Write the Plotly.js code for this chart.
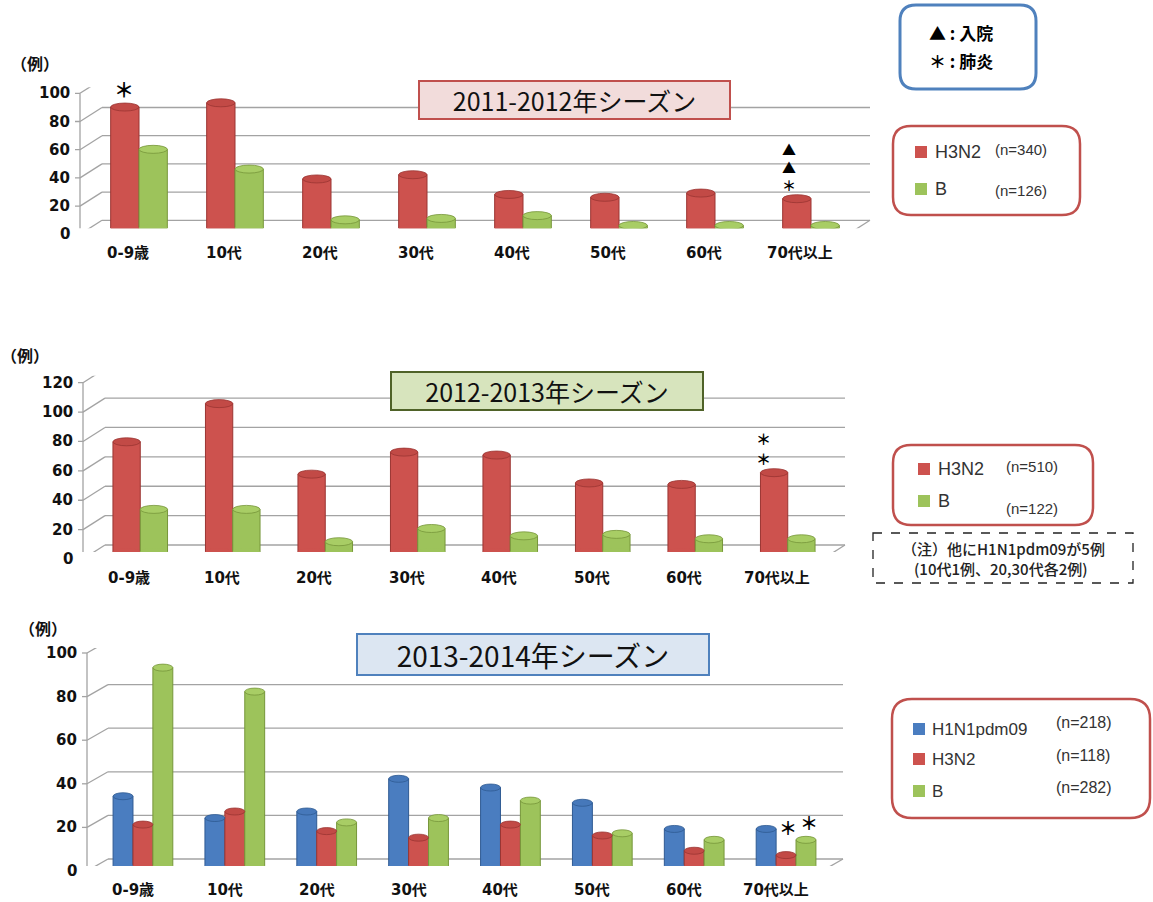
<!DOCTYPE html>
<html><head><meta charset="utf-8">
<script src="https://cdn.plot.ly/plotly-3.0.1.min.js"></script>
<style>html,body{margin:0;padding:0;background:#fff}</style>
</head><body><div id="chart" style="width:1153px;height:902px"></div>
<script>
// ---- data ----
const ageGroups = ['0-9歳','10代','20代','30代','40代','50代','60代','70代以上'];
const s1_H3N2 = [86,89,35,38,24,22,25,21];
const s1_B    = [56,42,6,7,9,2,2,2];
const s2_H3N2 = [75,101,53,68,66,47,46,54];
const s2_B    = [29,29,7,16,11,12,9,9];
const s3_H1N1 = [32,22,25,40,36,29,17,17];
const s3_H3N2 = [19,25,16,13,19,14,7,5];
const s3_B    = [91,80,20,22,30,15,12,12];
const yTicks1 = [0,20,40,60,80,100];
const yTicks2 = [0,20,40,60,80,100,120];
const yTicks3 = [0,20,40,60,80,100];
const seasonTitles = ['2011-2012年シーズン','2012-2013年シーズン','2013-2014年シーズン'];
const legend1 = [['H3N2','(n=340)'],['B','(n=126)']];
const legend2 = [['H3N2','(n=510)'],['B','(n=122)']];
const legend3 = [['H1N1pdm09','(n=218)'],['H3N2','(n=118)'],['B','(n=282)']];

// ---- styling ----
const W = 1153, H = 902;
const px = x => x / W, py = y => 1 - y / H;
const RED   = {color:'#CD524E', top:'#C24A46', edge:'#9A3532'};
const GREEN = {color:'#9DC35B', top:'#A8CD65', edge:'#76963A'};
const BLUE  = {color:'#4A7DC0', top:'#4678BA', edge:'#2F5A92'};
const NUMFONT = 'DejaVu Sans, Noto Sans CJK JP, sans-serif';
const JPFONT = 'Noto Sans CJK JP, sans-serif';
const GRID = {color:'#A3A3A3', width:1.3};

const charts = [
  {series:[{vals:s1_H3N2, ...RED},{vals:s1_B, ...GREEN}], ticks:yTicks1, range:[0,100],
   plane:{x0:91, x1:859, y0:228.3, yTop:87.3}, front:[-11,-6], back:[11,8], bargap:0.41, ell:8},
  {series:[{vals:s2_H3N2, ...RED},{vals:s2_B, ...GREEN}], ticks:yTicks2, range:[0,120],
   plane:{x0:94, x1:834, y0:552, yTop:375.7}, front:[-11,-7], back:[11,7], bargap:0.41, ell:8},
  {series:[{vals:s3_H1N1, ...BLUE},{vals:s3_H3N2, ...RED},{vals:s3_B, ...GREEN}], ticks:yTicks3, range:[0,100],
   plane:{x0:97, x1:832, y0:866, yTop:648}, front:[-10,-5], back:[11,7], bargap:0.35, ell:7}
];

const traces = [], shapes = [], annotations = [];
const layout = {width:W, height:H, margin:{l:0,r:0,t:0,b:0}, paper_bgcolor:'#fff', plot_bgcolor:'rgba(0,0,0,0)',
  barmode:'overlay', showlegend:false, font:{family:JPFONT}};

function txt(o) { // paper-positioned text helper with explicit anchors
  return Object.assign({xref:'paper', yref:'paper', xanchor:'center', yanchor:'middle', showarrow:false}, o);
}

charts.forEach((c, ci) => {
  const xa = ci === 0 ? 'x' : 'x' + (ci + 1);
  const ya = ci === 0 ? 'y' : 'y' + (ci + 1);
  const xk = ci === 0 ? 'xaxis' : 'xaxis' + (ci + 1);
  const yk = ci === 0 ? 'yaxis' : 'yaxis' + (ci + 1);
  const P = c.plane;
  layout[xk] = {domain:[px(P.x0), px(P.x1)], anchor:ya, type:'category', range:[-0.5, ageGroups.length - 0.5],
    showticklabels:false, showgrid:false, zeroline:false, showline:false, ticks:'', fixedrange:true};
  layout[yk] = {domain:[py(P.y0), py(P.yTop)], anchor:xa, range:c.range,
    showticklabels:false, showgrid:false, zeroline:false, showline:false, ticks:'', fixedrange:true};
  const [fdx, fdy] = c.front, [bdx, bdy] = c.back;
  const L = P.x0, R = P.x1;
  c.ticks.forEach(v => {
    shapes.push({type:'line', layer:'below', xref:'paper', x0:px(L+bdx), x1:px(R+bdx), yref:ya, ysizemode:'pixel', yanchor:v, y0:bdy, y1:bdy, line:GRID});
    shapes.push({type:'line', layer:'below', xref:'paper', x0:px(L+fdx), x1:px(L+bdx), yref:ya, ysizemode:'pixel', yanchor:v, y0:fdy, y1:bdy, line:GRID});
    shapes.push({type:'line', layer:'below', xref:'paper', x0:px(L+fdx-5), x1:px(L+fdx), yref:ya, ysizemode:'pixel', yanchor:v, y0:fdy, y1:fdy, line:GRID});
    annotations.push({xref:'paper', x:px(L+fdx-8), xanchor:'right', yref:ya, y:v, yanchor:'middle', yshift:fdy,
      text:String(v), showarrow:false, font:{family:NUMFONT, size:15, color:'#111', weight:'bold'}});
  });
  const hPx = P.y0 - P.yTop;
  shapes.push({type:'line', layer:'below', xref:'paper', x0:px(L+fdx), x1:px(R+fdx), yref:ya, ysizemode:'pixel', yanchor:0, y0:fdy, y1:fdy, line:GRID});
  shapes.push({type:'line', layer:'below', xref:'paper', x0:px(R+fdx), x1:px(R+bdx), yref:ya, ysizemode:'pixel', yanchor:0, y0:fdy, y1:bdy, line:GRID});
  shapes.push({type:'line', layer:'below', xref:'paper', x0:px(L+fdx), x1:px(L+fdx), yref:ya, ysizemode:'pixel', yanchor:0, y0:fdy, y1:fdy+hPx, line:GRID});
  for (let k = 0; k <= ageGroups.length; k++) {
    const xx = L + fdx + k * (R - L) / ageGroups.length;
    shapes.push({type:'line', layer:'below', xref:'paper', x0:px(xx), x1:px(xx), yref:ya, ysizemode:'pixel', yanchor:0, y0:fdy, y1:fdy-5, line:GRID});
  }
  ageGroups.forEach((g, i) => {
    annotations.push({xref:xa, x:i, xanchor:'center', xshift:fdx, yref:ya, y:0, yanchor:'middle', yshift:fdy-19, text:g, showarrow:false,
      font:{family:NUMFONT, size:15, color:'#111', weight:'bold'}});
  });
  const n = c.series.length, w = (1 - c.bargap) / n;
  c.series.forEach((s, k) => {
    const off = -(1 - c.bargap) / 2 + k * w;
    traces.push({type:'bar', x:ageGroups, y:s.vals, xaxis:xa, yaxis:ya, width:w, offset:off,
      marker:{color:s.color, line:{color:s.edge, width:1}}, hoverinfo:'skip'});
    s.vals.forEach((v, i) => {
      shapes.push({type:'circle', xref:xa, x0:i+off, x1:i+off+w, yref:ya, ysizemode:'pixel', yanchor:0,
        y0:-c.ell/2, y1:c.ell/2, fillcolor:s.color, line:{width:0}});
      shapes.push({type:'circle', xref:xa, x0:i+off, x1:i+off+w, yref:ya, ysizemode:'pixel', yanchor:v,
        y0:-c.ell/2, y1:c.ell/2, fillcolor:s.top, line:{color:s.edge, width:0.8}});
    });
  });
});

// ---- season title boxes ----
const titleBoxes = [
  {cx:574.5, cy:100, w:313, h:40, bg:'#F2DCDB', border:'#C0504D', size:25},
  {cx:547, cy:391, w:314, h:40, bg:'#D7E4BD', border:'#4F6228', size:25},
  {cx:533, cy:654.5, w:354, h:43, bg:'#DCE6F2', border:'#4F81BD', size:28}
];
titleBoxes.forEach((b, i) => {
  annotations.push(txt({x:px(b.cx), y:py(b.cy), text:seasonTitles[i], bgcolor:b.bg, bordercolor:b.border, borderwidth:2, borderpad:0,
    width:b.w-4, height:b.h-4, font:{family:JPFONT, size:b.size, color:'#111'}}));
});

// ---- (例) unit labels ----
[[35,63],[25,355],[43,628]].forEach(p => {
  annotations.push(txt({x:px(p[0]), y:py(p[1]), text:'（例）', font:{family:JPFONT, size:16, color:'#111', weight:'bold'}}));
});

// ---- symbols above bars ----
function mark(ci, cat, seriesIdx, text, dx, dyPx, size) {
  const c = charts[ci];
  const n = c.series.length, w = (1 - c.bargap) / n;
  const off = -(1 - c.bargap) / 2 + seriesIdx * w + w / 2;
  const xa = ci === 0 ? 'x' : 'x' + (ci + 1), ya = ci === 0 ? 'y' : 'y' + (ci + 1);
  const i = ageGroups.indexOf(cat);
  annotations.push({xref:xa, x:i + off, xanchor:'center', xshift:dx, yref:ya, y:c.series[seriesIdx].vals[i], yanchor:'bottom', yshift:dyPx,
    text:text, showarrow:false, borderpad:0, font:{family:JPFONT, size:size, color:'#000', weight:'bold'}});
}
mark(0, '0-9歳', 0, '＊', -1, 2, 20);
mark(0, '70代以上', 0, '▲<br>▲<br>＊', -8, 3, 14);
mark(1, '70代以上', 0, '＊<br>＊', -11, 3, 15);
mark(2, '70代以上', 1, '＊', 2, 14, 18);
mark(2, '70代以上', 2, '＊', 3, 4, 18);

// ---- legend boxes ----
function rr(x0, y0, x1, y1, r) {
  const X = px, Y = py;
  return `M${X(x0+r)},${Y(y0)} L${X(x1-r)},${Y(y0)} Q${X(x1)},${Y(y0)} ${X(x1)},${Y(y0+r)} ` +
    `L${X(x1)},${Y(y1-r)} Q${X(x1)},${Y(y1)} ${X(x1-r)},${Y(y1)} L${X(x0+r)},${Y(y1)} ` +
    `Q${X(x0)},${Y(y1)} ${X(x0)},${Y(y1-r)} L${X(x0)},${Y(y0+r)} Q${X(x0)},${Y(y0)} ${X(x0+r)},${Y(y0)} Z`;
}
shapes.push({type:'path', xref:'paper', yref:'paper', path:rr(900,5,1036,89,16), line:{color:'#4F81BD', width:3}});
annotations.push(txt({x:px(927), xanchor:'left', y:py(32), text:'▲ : 入院', font:{family:JPFONT, size:17, color:'#000', weight:'bold'}}));
annotations.push(txt({x:px(927), xanchor:'left', y:py(60), text:'＊ : 肺炎', font:{family:JPFONT, size:17, color:'#000', weight:'bold'}}));

const legendBoxes = [
  {box:[893,126,1080,215,18], items:legend1, cols:[RED,GREEN], rowsY:[152,189], nY:[150,190], sqX:915, txX:933, nX:993, size:18, nsize:15},
  {box:[893,445,1093,525,18], items:legend2, cols:[RED,GREEN], rowsY:[469,501], nY:[467,508], sqX:918, txX:936, nX:1004, size:18, nsize:15},
  {box:[892,699,1150,818,20], items:legend3, cols:[BLUE,RED,GREEN], rowsY:[729,759,791], nY:[722,755,787], sqX:913, txX:930, nX:1054, size:17, nsize:16}
];
legendBoxes.forEach(lb => {
  const b = lb.box;
  shapes.push({type:'path', xref:'paper', yref:'paper', path:rr(b[0],b[1],b[2],b[3],b[4]), line:{color:'#C0504D', width:2.5}});
  lb.items.forEach((it, j) => {
    const y = lb.rowsY[j];
    shapes.push({type:'rect', xref:'paper', yref:'paper', x0:px(lb.sqX), x1:px(lb.sqX+12), y0:py(y-6), y1:py(y+6),
      fillcolor:lb.cols[j].color, line:{width:0}});
    annotations.push(txt({x:px(lb.txX), xanchor:'left', y:py(y), text:it[0],
      font:{family:'Liberation Sans, Arial, sans-serif', size:lb.size, color:'#333'}}));
    annotations.push(txt({x:px(lb.nX), xanchor:'left', y:py(lb.nY[j]), text:it[1],
      font:{family:'Liberation Sans, Arial, sans-serif', size:lb.nsize, color:'#333'}}));
  });
});
// note box
shapes.push({type:'rect', xref:'paper', yref:'paper', x0:px(873), x1:px(1133), y0:py(533), y1:py(583),
  line:{color:'#222', width:1.3, dash:'dash'}});
annotations.push(txt({x:px(1003), y:py(548), text:'（注）他にH1N1pdm09が5例', font:{family:JPFONT, size:15, color:'#222', weight:500}}));
annotations.push(txt({x:px(1001), y:py(568), text:'(10代1例、20,30代各2例)', font:{family:JPFONT, size:15, color:'#222', weight:500}}));

layout.shapes = shapes;
layout.annotations = annotations;
Plotly.newPlot('chart', traces, layout, {displayModeBar:false, staticPlot:true});
</script></body></html>
